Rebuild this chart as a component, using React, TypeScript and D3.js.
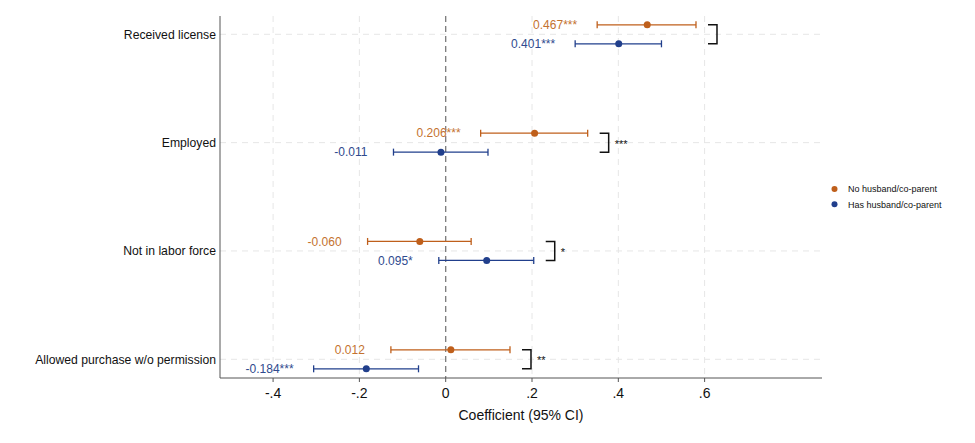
import React from "react";
import * as d3 from "d3";

const categories = ["Received license", "Employed", "Not in labor force", "Allowed purchase w/o permission"];
const seriesNames = ["No husband/co-parent", "Has husband/co-parent"];
const noHusCoef = [0.467, 0.206, -0.060, 0.012];
const noHusLow = [0.351, 0.081, -0.181, -0.127];
const noHusHigh = [0.580, 0.329, 0.059, 0.149];
const noHusStars = ["***", "***", "", ""];
const hasHusCoef = [0.401, -0.011, 0.095, -0.184];
const hasHusLow = [0.300, -0.121, -0.016, -0.306];
const hasHusHigh = [0.500, 0.098, 0.204, -0.063];
const hasHusStars = ["***", "", "*", "***"];
const diffStars = ["", "***", "*", "**"];
const xTicks = [-0.4, -0.2, 0, 0.2, 0.4, 0.6];
const xTickLabels = ["-.4", "-.2", "0", ".2", ".4", ".6"];

const W = 975, H = 443;
const left = 220, right = 822, top = 16, bottom = 378;
const ORANGE = "#bf5f1b";
const ORANGE_T = "#c4722f";
const BLUE = "#213f8c";
const BLUE_T = "#2f4a8e";
const FONT = "Liberation Sans, Arial, sans-serif";
const fmt = (v: number) => d3.format(".3f")(v).replace("\u2212", "-");

export default function App() {
  const x = d3.scaleLinear().domain([-0.523, 0.872]).range([left, right]);
  const y = d3.scalePoint<string>().domain(categories).range([34.3, 359.3]);
  const off = 9.5;

  const series = [
    { name: seriesNames[0], coef: noHusCoef, low: noHusLow, high: noHusHigh, stars: noHusStars, color: ORANGE, tcolor: ORANGE_T, dy: -off },
    { name: seriesNames[1], coef: hasHusCoef, low: hasHusLow, high: hasHusHigh, stars: hasHusStars, color: BLUE, tcolor: BLUE_T, dy: off },
  ];

  return (
    <svg width={W} height={H} style={{ display: "block", position: "absolute", left: 0, top: 0 }} fontFamily={FONT}>
      <rect width={W} height={H} fill="#fff" />
      {xTicks.filter((t) => t !== 0).map((t) => (
        <line key={"gx" + t} x1={x(t)} x2={x(t)} y1={top} y2={bottom} stroke="#e6e6e6" strokeWidth={1} strokeDasharray="6,5" />
      ))}
      {categories.map((c) => (
        <line key={"gy" + c} x1={left} x2={right} y1={y(c)} y2={y(c)} stroke="#e6e6e6" strokeWidth={1} strokeDasharray="6,5" />
      ))}
      <line x1={x(0)} x2={x(0)} y1={top} y2={bottom} stroke="#7a7a7a" strokeWidth={1.3} strokeDasharray="6,4" />
      <line x1={left} x2={left} y1={top} y2={bottom} stroke="#555" strokeWidth={1} />
      <line x1={left} x2={right} y1={bottom} y2={bottom} stroke="#555" strokeWidth={1} />
      {xTicks.map((t, i) => (
        <g key={"xt" + t}>
          <line x1={x(t)} x2={x(t)} y1={bottom} y2={bottom + 4} stroke="#555" />
          <text x={x(t)} y={bottom + 20} textAnchor="middle" fontSize={14} fill="#111">{xTickLabels[i]}</text>
        </g>
      ))}
      <text x={(left + right) / 2} y={420} textAnchor="middle" fontSize={14} fill="#111">Coefficient (95% CI)</text>
      {categories.map((c) => (
        <text key={"yl" + c} x={216} y={(y(c) as number) + 4.5} textAnchor="end" fontSize={12.2} fill="#111">{c}</text>
      ))}
      {series.map((s) =>
        categories.map((c, i) => {
          const yy = (y(c) as number) + s.dy;
          const gap = s.stars[i].length === 3 ? 20 : 26;
          return (
            <g key={s.name + c}>
              <line x1={x(s.low[i])} x2={x(s.high[i])} y1={yy} y2={yy} stroke={s.color} strokeWidth={1.3} />
              <line x1={x(s.low[i])} x2={x(s.low[i])} y1={yy - 3.5} y2={yy + 3.5} stroke={s.color} strokeWidth={1.3} />
              <line x1={x(s.high[i])} x2={x(s.high[i])} y1={yy - 3.5} y2={yy + 3.5} stroke={s.color} strokeWidth={1.3} />
              <circle cx={x(s.coef[i])} cy={yy} r={3.5} fill={s.color} />
              <text x={x(s.low[i]) - gap} y={yy + 4.3} textAnchor="end" fontSize={12} fill={s.tcolor}>
                {fmt(s.coef[i]) + s.stars[i]}
              </text>
            </g>
          );
        })
      )}
      {categories.map((c, i) => {
        const y1 = (y(c) as number) - off;
        const y2 = (y(c) as number) + off;
        const bx = x(Math.max(noHusHigh[i], hasHusHigh[i])) + 12;
        return (
          <g key={"br" + c}>
            <path d={`M${bx},${y1}H${bx + 9}V${y2}H${bx}`} fill="none" stroke="#111" strokeWidth={1.5} />
            {diffStars[i] && <text x={bx + 15} y={(y(c) as number) + 5} fontSize={11} fill="#111">{diffStars[i]}</text>}
          </g>
        );
      })}
      {series.map((s, i) => (
        <g key={"lg" + s.name}>
          <circle cx={834.5} cy={189 + i * 15.3} r={3} fill={s.color} />
          <text x={848} y={189 + i * 15.3 + 3.2} fontSize={9} fill="#111">{s.name}</text>
        </g>
      ))}
    </svg>
  );
}
